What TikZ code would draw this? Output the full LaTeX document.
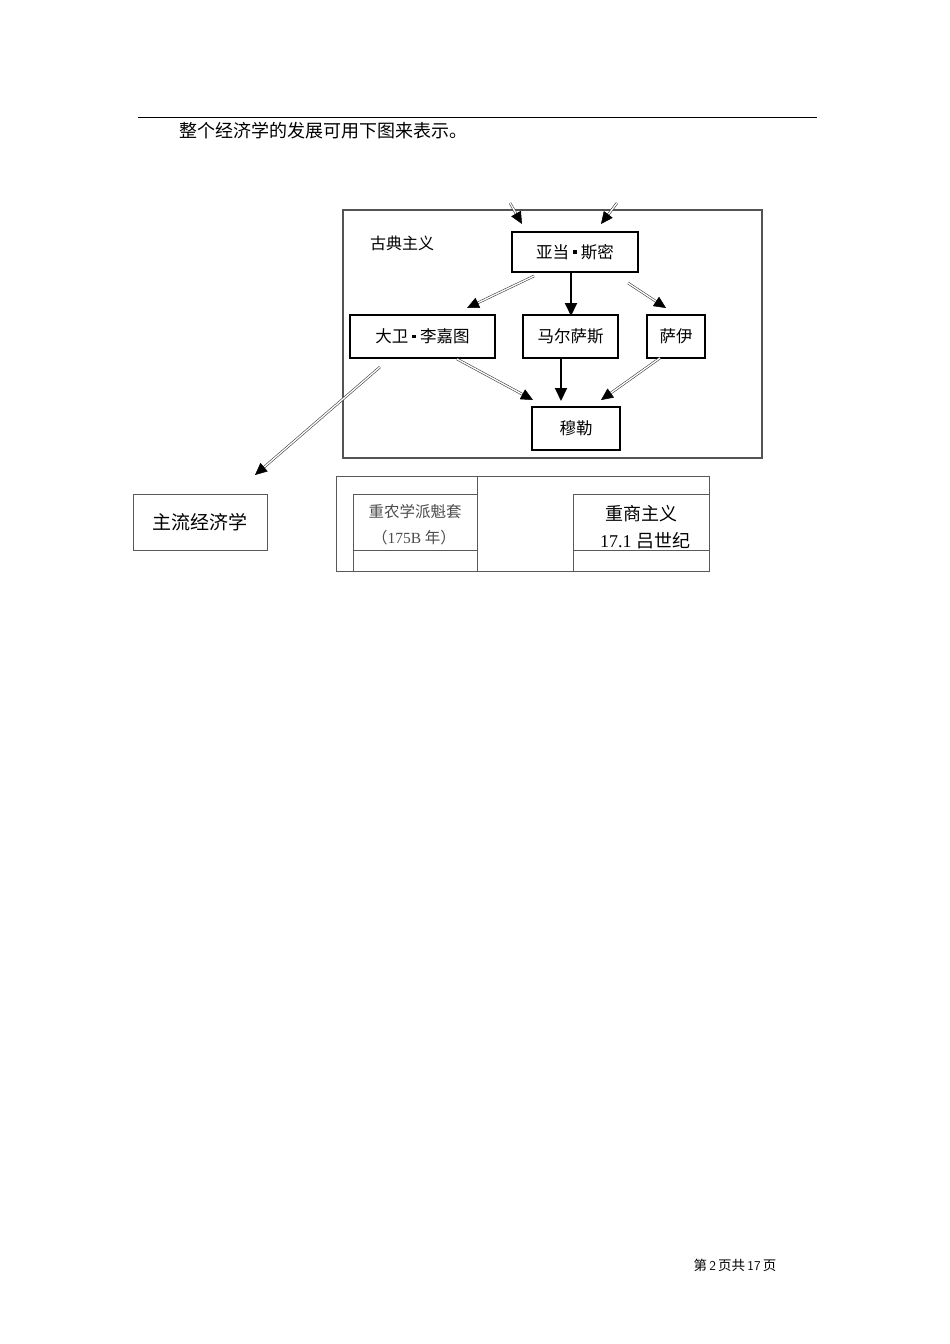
\documentclass[tikz,border=0pt]{standalone}
\usepackage{fontspec}
\setmainfont{Liberation Serif}
\newfontfamily\cjk{Noto Sans CJK SC}
\usetikzlibrary{arrows.meta,calc}
\tikzset{
  bx/.style={draw=black,line width=2.2pt,fill=white,inner sep=0pt,font=\cjk\fontsize{16.5}{17}\selectfont},
  dbl/.style={draw=black!75,line width=0.6pt,double=white,double distance=1.3pt,shorten >=9pt},
  tipc/.style={-{Triangle[length=12pt,width=11pt]},black,line width=0.5pt},
  solidarr/.style={line width=2pt,black,-{Triangle[length=13pt,width=12pt]}},
  tbl/.style={draw=gray!70!black,line width=0.6pt}
}
\newcommand{\sqdot}{\hspace{0.25em}\rule[0.28em]{0.22em}{0.22em}\hspace{0.25em}}
\begin{document}
\begin{tikzpicture}[x=1pt,y=-1pt]
\useasboundingbox (0,0) rectangle (950,1344);
% header rule and sentence
\draw[line width=0.8pt] (138,117) -- (817,117);
\node[anchor=west,inner sep=0pt,font=\cjk\fontsize{18}{18}\selectfont] (intro) at (179,131) {整个经济学的发展可用下图来表示。};
% classical box
\draw[draw=gray!65!black,line width=2pt] (343,210) rectangle (762,458);
\node[font=\cjk\fontsize{16}{16}\selectfont,inner sep=0pt] (gd) at (402,243) {古典主义};
% nodes
\node[bx,minimum width=126pt,minimum height=40pt] (smith) at (575,252) {亚当\sqdot 斯密};
\node[bx,minimum width=145pt,minimum height=43pt] (ricardo) at (422.5,336.5) {大卫\sqdot 李嘉图};
\node[bx,minimum width=95pt,minimum height=43pt] (malthus) at (570.5,336.5) {马尔萨斯};
\node[bx,minimum width=58pt,minimum height=43pt] (say) at (676,336.5) {萨伊};
\node[bx,minimum width=88pt,minimum height=43pt] (mill) at (576,428.5) {穆勒};
\node[draw=gray!70!black,line width=0.8pt,minimum width=134pt,minimum height=56pt,inner sep=0pt,font=\cjk\fontsize{19}{19}\selectfont] (main) at (200,522) {主流经济学};
% arrow coordinates
\coordinate (in1s) at (510,203); \coordinate (in1t) at (522,224);
\coordinate (in2s) at (617,203); \coordinate (in2t) at (601,224);
\coordinate (a1s) at (534,276); \coordinate (a1t) at (467,308);
\coordinate (a3s) at (628,283); \coordinate (a3t) at (666,308);
\coordinate (b1s) at (457,359); \coordinate (b1t) at (533,400);
\coordinate (b3s) at (660,358); \coordinate (b3t) at (601,400);
\coordinate (cs) at (380,367); \coordinate (ct) at (255,475);
% double (hollow) connectors
\foreach \s/\t in {in1s/in1t,in2s/in2t,a1s/a1t,a3s/a3t,b1s/b1t,b3s/b3t,cs/ct}{
  \draw[dbl] (\s) -- (\t);
  \draw[tipc] ($(\t)!12pt!(\s)$) -- (\t);
}
% solid connectors
\draw[solidarr] (smith.south -| 571,0) -- (571,316);
\draw[solidarr] (malthus.south -| 561,0) -- (561,401);
% table
\draw[tbl] (336,476) rectangle (709,571);
\draw[tbl] (477,476) -- (477,571);
\draw[tbl] (353,494) rectangle (477,550);
\draw[tbl] (353,550) -- (353,571);
\draw[tbl] (573,494) -- (709,494);
\draw[tbl] (573,550) -- (709,550);
\draw[tbl] (573,494) -- (573,571);
\node[font=\cjk\fontsize{15.5}{15}\selectfont,text=gray!60!black,inner sep=0pt] (phys1) at (415,512) {重农学派魁套};
\node[font=\fontsize{15.5}{15}\selectfont,text=gray!60!black,inner sep=0pt] (phys2) at (414,538) {{\cjk（}175B {\cjk 年）}};
\node[font=\cjk\fontsize{18}{18}\selectfont,inner sep=0pt] (merc1) at (641,514) {重商主义};
\node[font=\fontsize{18}{18}\selectfont,inner sep=0pt] (merc2) at (645,541) {17.1 {\cjk 吕世纪}};
% footer
\node[font=\fontsize{13.5}{14}\selectfont,inner sep=0pt] (foot) at (735,1265) {{\cjk 第}\,\textsf{2}\,{\cjk 页共}\,\textsf{17}\,{\cjk 页}};
\end{tikzpicture}
\end{document}
